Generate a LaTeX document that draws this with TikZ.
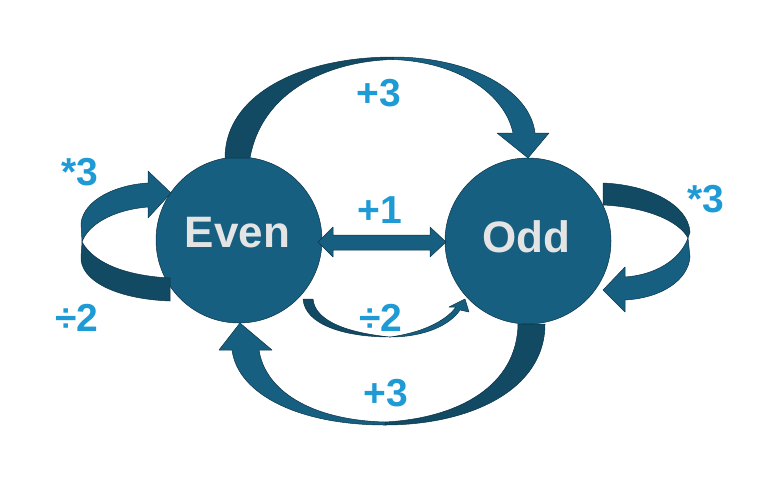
\documentclass[tikz,border=0pt]{standalone}
\usepackage{fontspec}
\setmainfont{Liberation Sans}
\definecolor{circ}{RGB}{22,95,128}
\definecolor{darkc}{RGB}{18,73,99}
\definecolor{edgec}{RGB}{12,52,72}
\definecolor{lblc}{RGB}{30,154,212}
\definecolor{txtc}{RGB}{228,228,228}
\begin{document}
\begin{tikzpicture}[x=1pt,y=-1pt,
  face/.style={fill=circ, draw=edgec, line width=0.5pt, line join=round},
  back/.style={fill=darkc, draw=edgec, line width=0.5pt, line join=round},
  ball/.style={circle, minimum size=166pt, inner sep=0pt, fill=circ, draw=edgec, line width=0.5pt},
  lbl/.style={text=lblc, font=\fontsize{39}{39}\selectfont\bfseries, inner sep=0pt},
  nm/.style={font=\fontsize{44}{44}\selectfont\bfseries, inner sep=0pt, text=txtc},
]
\useasboundingbox (0,0) rectangle (775,485);

% circles
\node[ball] (even) at (239,240) {};
\node[ball] (odd) at (528,241) {};

% names
\node[nm] (evenlbl) at (237.5,232.5) {Even};
\node[nm] (oddlbl) at (526,237) {Odd};

% top arrow Even -> Odd
\path[back] (225,158) .. controls (225,95) and (300,57) .. (393,57)
  -- (393,59.5) .. controls (330,61) and (262,90) .. (250,158) -- cycle;
\path[face] (393,57) .. controls (470,57) and (530,90) .. (535,133)
  -- (549,133) -- (528,158) -- (497,133) -- (513,133)
  .. controls (505,95) and (460,62) .. (393,59.5) -- cycle;

% bottom arrow Odd -> Even
\path[back] (545,324) .. controls (545,390) and (470,425) .. (385,425)
  -- (385,422) .. controls (460,418) and (517,385) .. (518,324) -- cycle;
\path[face] (385,425) .. controls (300,425) and (238,395) .. (232,350)
  -- (219,350) -- (240,323) -- (272,350) -- (259,350)
  .. controls (265,390) and (310,420) .. (385,422) -- cycle;

% left self loop
\path[back] (82,242) .. controls (95,265) and (130,276) .. (170,278)
  -- (170,301) .. controls (115,299) and (80,280) .. (81,257) -- cycle;
\path[face] (81,223) .. controls (84,200) and (115,185) .. (148,183)
  -- (148,171) -- (171,193) -- (148,218) -- (148,207)
  .. controls (112,210) and (88,225) .. (82,242) -- cycle;

% right self loop
\path[back] (603,183) .. controls (650,185) and (688,205) .. (690,232)
  -- (688,238) .. controls (678,220) and (645,207) .. (603,205) -- cycle;
\path[face] (688,238) .. controls (680,260) and (655,275) .. (625,277)
  -- (625,267) -- (603,290) -- (625,312) -- (625,300)
  .. controls (662,298) and (688,280) .. (690,257) -- cycle;

% small arrow Even -> Odd (div 2)
\path[back] (303,299) .. controls (305,325) and (345,337) .. (390,337)
  .. controls (350,333) and (315,322) .. (313,299) -- cycle;
\path[face] (390,337) .. controls (425,337) and (450,325) .. (460,310)
  -- (469,312) -- (465,299) -- (449,307) -- (456,307)
  .. controls (445,322) and (420,333) .. (390,337) -- cycle;

% double arrow +1
\path[face] (318,242) -- (333,227) -- (333,235) -- (430,235) -- (430,227)
  -- (446,242) -- (430,257) -- (430,250) -- (333,250) -- (333,257) -- cycle;

% labels
\node[lbl] (ltop) at (379,93) {+3};
\node[lbl] (lleft1) at (80,172) {*3};
\node[lbl] (lleft2) at (77,318) {÷2};
\node[lbl] (lmid1) at (380,210) {+1};
\node[lbl] (lmid2) at (381,318) {÷2};
\node[lbl] (lright) at (706,199) {*3};
\node[lbl] (lbot) at (386,393) {+3};
\end{tikzpicture}
\end{document}
